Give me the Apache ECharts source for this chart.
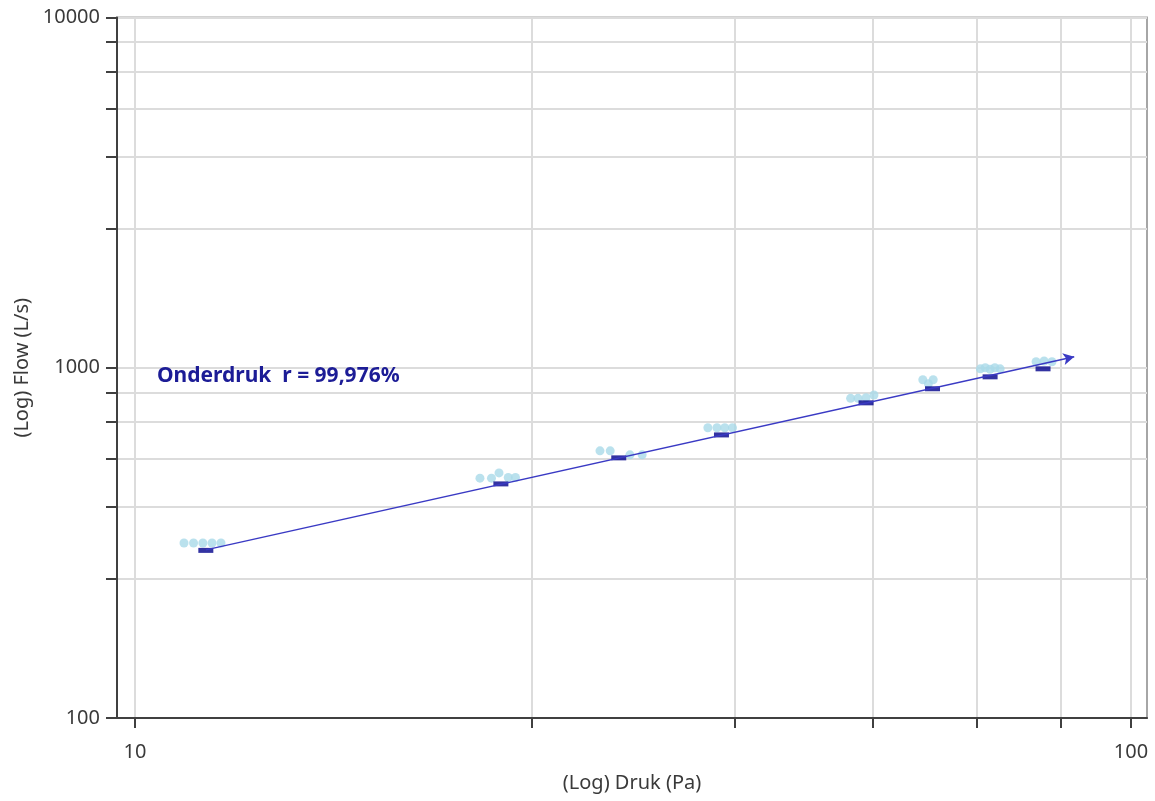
<!DOCTYPE html>
<html>
<head>
<meta charset="utf-8">
<title>Onderdruk</title>
<script src="https://cdn.jsdelivr.net/npm/echarts@6/dist/echarts.min.js"></script>
<style>
  html, body { margin: 0; padding: 0; background: #fff; }
  #chart { width: 1155px; height: 801px; }
</style>
</head>
<body>
<div id="chart"></div>
<script>
// individual readings (light blue)
const readingPa = [11.2, 11.45, 11.7, 11.95, 12.2,
  22.2, 22.8, 23.2, 23.7, 24.1,
  29.3, 30.0, 31.4, 32.3,
  37.6, 38.4, 39.1, 39.8,
  52.3, 53.2, 54.2, 55.2,
  61.8, 62.6, 63.3,
  70.6, 71.4, 72.2, 73.0, 73.9,
  80.3, 81.8, 83.3]
const readingFlow = [316, 316, 316, 316, 316,
  484, 484, 501, 486, 486,
  579, 579, 564, 564,
  674, 674, 674, 674,
  818, 818, 821, 836,
  924, 900, 924,
  993, 1000, 990, 1000, 993,
  1040, 1045, 1040]

// mean per step (dark blue)
const meanPa = [11.78, 23.3, 30.6, 38.8, 54.2, 63.2, 72.2, 81.6]
const meanFlow = [301, 466, 553, 643, 794, 871, 942, 993]

// fitted line, start and arrow end
const fitPa = [11.78, 87.7]
const fitFlow = [302, 1075]

// grid / tick values
const xGrid = [10, 25, 40, 55, 70, 85, 100]
const xLabels = [10, 100]
const yGrid = [100, 250, 400, 550, 700, 850, 1000, 2500, 4000, 5500, 7000, 8500, 10000]
const yLabels = [100, 1000, 10000]

const lg = v => Math.log10(v)
const pairs = (xs, ys) => xs.map((x, i) => [lg(x), lg(ys[i])])

const font = 'Noto Sans'
const chart = echarts.init(document.getElementById('chart'))

chart.setOption({
  animation: false,
  backgroundColor: '#fff',
  textStyle: { fontFamily: font },
  grid: {
    left: 117,
    right: 8,
    top: 17.5,
    bottom: 83,
    show: true,
    borderColor: '#a6a6a6',
    borderWidth: 2
  },
  graphic: [{
    type: 'text',
    left: 157,
    top: 366,
    z: 100,
    style: {
      text: 'Onderdruk  r = 99,976%',
      font: 'bold 21px "Noto Sans"',
      fill: '#1c1c96'
    }
  }],
  xAxis: {
    type: 'value',
    min: lg(9.593),
    max: lg(103.77),
    name: '(Log) Druk (Pa)',
    nameLocation: 'middle',
    nameGap: 55,
    nameTextStyle: { fontSize: 20, color: '#3a3a3a', fontFamily: font },
    axisLine: { show: true, lineStyle: { color: '#404040', width: 2 } },
    axisTick: {
      show: true,
      length: 10,
      customValues: xGrid.map(lg),
      lineStyle: { color: '#404040', width: 2 }
    },
    axisLabel: {
      customValues: xLabels.map(lg),
      margin: 24,
      fontSize: 20,
      color: '#3a3a3a',
      formatter: v => String(Math.round(Math.pow(10, v)))
    },
    splitLine: {
      show: true,
      customValues: xGrid.map(lg),
      lineStyle: { color: '#dcdcdc', width: 2 }
    }
  },
  yAxis: {
    type: 'value',
    min: lg(100),
    max: lg(10000),
    name: '(Log) Flow (L/s)',
    nameLocation: 'middle',
    nameGap: 80,
    nameTextStyle: { fontSize: 20, color: '#3a3a3a', fontFamily: font },
    axisLine: { show: true, lineStyle: { color: '#404040', width: 2 } },
    axisTick: {
      show: true,
      length: 11,
      customValues: yGrid.map(lg),
      lineStyle: { color: '#404040', width: 2 }
    },
    axisLabel: {
      customValues: yLabels.map(lg),
      margin: 17,
      fontSize: 20,
      color: '#3a3a3a',
      formatter: v => String(Math.round(Math.pow(10, v)))
    },
    splitLine: {
      show: true,
      customValues: yGrid.map(lg),
      lineStyle: { color: '#dcdcdc', width: 2 }
    }
  },
  series: [
    {
      name: 'Metingen',
      type: 'scatter',
      z: 2,
      symbol: 'circle',
      symbolSize: 9,
      itemStyle: { color: '#a9d9e8' },
      data: pairs(readingPa, readingFlow)
    },
    {
      name: 'Fit',
      type: 'line',
      z: 3,
      symbol: 'none',
      data: [],
      markLine: {
        silent: true,
        symbol: ['none', 'arrow'],
        symbolSize: [9, 11],
        label: { show: false },
        lineStyle: { color: '#3a3ac4', width: 1.5, type: 'solid' },
        data: [[
          { coord: [lg(fitPa[0]), lg(fitFlow[0])] },
          { coord: [lg(fitPa[1]), lg(fitFlow[1])] }
        ]]
      }
    },
    {
      name: 'Gemiddeld',
      type: 'scatter',
      z: 4,
      symbol: 'rect',
      symbolSize: [15, 5],
      itemStyle: { color: '#00008b' },
      data: pairs(meanPa, meanFlow)
    }
  ]
})
</script>
</body>
</html>
